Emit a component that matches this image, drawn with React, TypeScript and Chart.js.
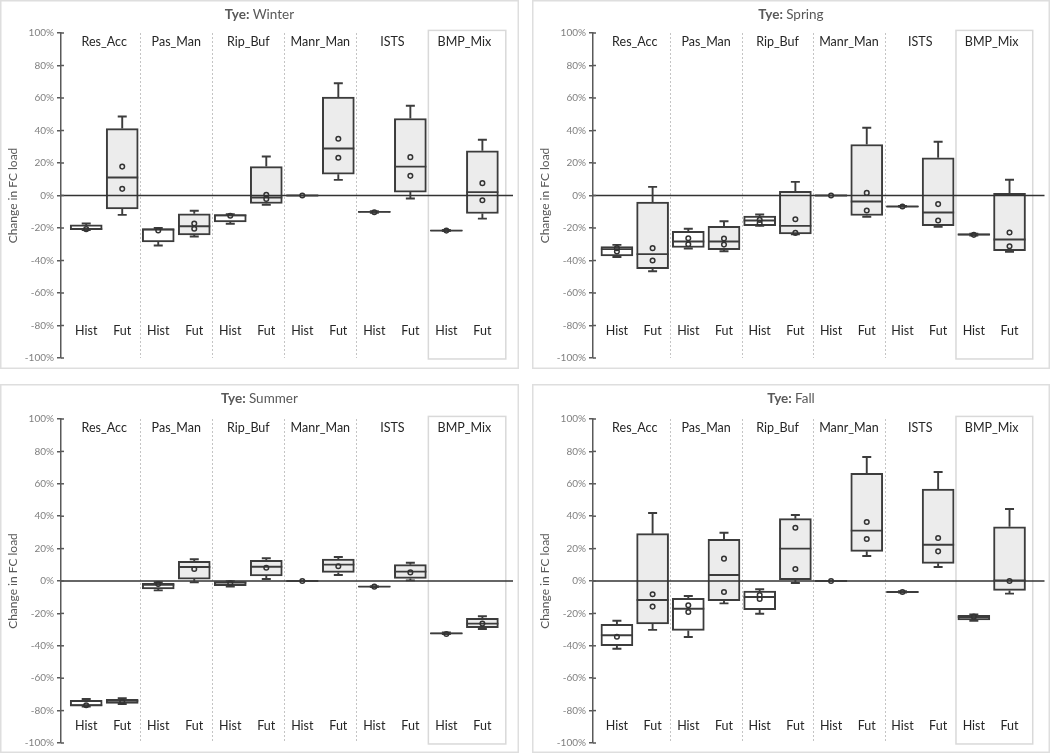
import React, { useEffect, useRef } from 'react';
import { Chart, registerables } from 'chart.js';

Chart.register(...registerables);

const FONT = 'Lato, "Noto Sans", "DejaVu Sans", sans-serif';

// ---------- categories & ticks ----------
const groups = ['Res_Acc', 'Pas_Man', 'Rip_Buf', 'Manr_Man', 'ISTS', 'BMP_Mix'];
const periods = ['Hist', 'Fut'];
const yTicks = [-100, -80, -60, -40, -20, 0, 20, 40, 60, 80, 100];
const yAxisTitle = 'Change in FC load';
const titlePrefix = 'Tye:';

// box order: Res_Acc Hist, Res_Acc Fut, Pas_Man Hist, Pas_Man Fut, Rip_Buf Hist, Rip_Buf Fut,
//            Manr_Man Hist, Manr_Man Fut, ISTS Hist, ISTS Fut, BMP_Mix Hist, BMP_Mix Fut

// ---------- Winter ----------
const winterMin = [-21.2, -11.9, -30.8, -25.2, -17.4, -5.7, 0, 9.6, -10.6, -1.8, -21.9, -14.2];
const winterQ1 = [-21.0, -8.2, -28.5, -24.2, -16.2, -4.9, 0, 13.1, -10.4, 2.1, -21.8, -11.1];
const winterMed = [-20.6, 11.1, -21.0, -18.9, -12.2, -1.2, 0, 28.9, -10.1, 17.8, -21.6, 2.1];
const winterQ3 = [-18.1, 41.2, -20.3, -11.3, -11.7, 17.8, 0, 60.5, -9.8, 47.4, -21.3, 27.5];
const winterMax = [-17.2, 48.6, -19.9, -9.4, -11.5, 24.0, 0, 69.1, -9.6, 55.2, -21.2, 34.3];
const winterPoints = [[-20.7], [17.8, 4.1], [-21.5], [-17.2, -20.5], [-12.5], [0.4, -2.1], [0], [34.9, 23.2], [-10.3], [23.6, 12.1], [-21.6], [7.6, -2.9]];

// ---------- Spring ----------
const springMin = [-37.8, -46.6, -32.6, -34.3, -18.7, -23.8, 0, -13.1, -7.0, -19.3, -24.6, -34.7];
const springQ1 = [-37.2, -45.0, -32.0, -33.3, -18.5, -23.6, 0, -12.3, -6.9, -18.5, -24.4, -33.9];
const springMed = [-33.0, -36.1, -28.3, -28.3, -15.4, -18.7, 0, -3.7, -6.8, -10.5, -24.0, -27.1];
const springQ3 = [-31.4, -4.1, -22.0, -18.9, -12.7, 2.5, 0, 31.4, -6.6, 23.2, -23.6, 1.4];
const springMax = [-30.4, 5.3, -20.5, -15.8, -11.7, 8.4, 0, 41.7, -6.5, 33.1, -23.5, 9.7];
const springPoints = [[-32.4, -34.5], [-32.4, -40.0], [-26.3, -30.0], [-26.5, -30.2], [-15.0, -17.0], [-14.6, -23.0], [0], [1.6, -9.2], [-6.8], [-5.3, -15.4], [-24.2], [-22.8, -31.2]];

// ---------- Summer ----------
const summerMin = [-77.5, -75.9, -5.8, -0.8, -3.5, 1.2, 0, 3.7, -3.7, 0.4, -32.8, -29.6];
const summerQ1 = [-77.2, -75.5, -4.9, 1.2, -2.9, 3.1, 0, 5.3, -3.6, 1.6, -32.6, -28.8];
const summerMed = [-76.6, -74.0, -2.3, 8.6, -1.0, 8.8, 0, 10.1, -3.5, 5.8, -32.3, -26.3];
const summerQ3 = [-73.7, -73.0, -1.4, 12.1, -0.4, 12.8, 0, 13.6, -3.3, 10.1, -32.0, -23.0];
const summerMax = [-72.8, -72.4, -0.8, 13.4, -0.2, 14.0, 0, 14.8, -3.2, 11.3, -31.8, -21.8];
const summerPoints = [[-76.7], [-74.5], [-1.9], [7.4], [-1.4], [8.2], [0], [9.1], [-3.5], [5.3], [-32.7], [-26.3]];

// ---------- Fall ----------
const fallMin = [-41.8, -30.2, -34.6, -13.8, -20.2, -1.2, 0, 15.4, -7.2, 8.6, -24.5, -7.8];
const fallQ1 = [-39.9, -26.5, -30.5, -12.1, -17.7, 0.8, 0, 18.3, -7.0, 10.9, -24.1, -5.8];
const fallMed = [-33.5, -11.7, -17.1, 3.7, -9.9, 20.0, 0, 31.1, -6.8, 22.4, -22.2, 0.4];
const fallQ3 = [-26.7, 29.2, -10.7, 25.7, -6.2, 38.5, 0, 66.5, -6.5, 56.8, -21.2, 33.5];
const fallMax = [-24.5, 42.0, -9.3, 29.8, -5.1, 40.7, 0, 76.5, -6.3, 67.3, -20.6, 44.4];
const fallPoints = [[-34.4], [-8.2, -15.8], [-15.0, -19.1], [13.8, -6.8], [-8.6, -11.1], [32.9, 7.4], [0], [36.4, 25.9], [-6.8], [26.5, 18.3], [-22.0], [0.0]];

type SeasonData = {
  name: string;
  min: number[]; q1: number[]; med: number[]; q3: number[]; max: number[]; pts: number[][];
};

const seasonData: SeasonData[] = [
  { name: 'Winter', min: winterMin, q1: winterQ1, med: winterMed, q3: winterQ3, max: winterMax, pts: winterPoints },
  { name: 'Spring', min: springMin, q1: springQ1, med: springMed, q3: springQ3, max: springMax, pts: springPoints },
  { name: 'Summer', min: summerMin, q1: summerQ1, med: summerMed, q3: summerQ3, max: summerMax, pts: summerPoints },
  { name: 'Fall', min: fallMin, q1: fallQ1, med: fallMed, q3: fallQ3, max: fallMax, pts: fallPoints },
];

// ---------- panel layout (positions / sizes only) ----------
const layouts = [
  { left: 0, top: 0, w: 519, h: 369, padTop: 33, padBottom: 11, padRight: 6, axisW: 61, xMin: -0.7, xMax: 11.85, periodLabelAt: -83.5 },
  { left: 532, top: 0, w: 518, h: 369, padTop: 33, padBottom: 11, padRight: 3, axisW: 61, xMin: -0.67, xMax: 11.98, periodLabelAt: -83.5 },
  { left: 0, top: 384, w: 519, h: 369, padTop: 35, padBottom: 10, padRight: 6, axisW: 61, xMin: -0.7, xMax: 11.85, periodLabelAt: -89.5 },
  { left: 532, top: 384, w: 518, h: 369, padTop: 35, padBottom: 10, padRight: 3, axisW: 61, xMin: -0.67, xMax: 11.98, periodLabelAt: -89.5 },
];

const DARK = '#3c3c3c';
const GRAY_TEXT = '#595959';

const decorPlugin = {
  id: 'boxDecor',
  beforeDraw(chart: any, _args: any, opts: any) {
    const { ctx, width, height, scales } = chart;
    const x = scales.x, y = scales.y;
    ctx.save();
    ctx.fillStyle = '#ffffff';
    ctx.fillRect(0, 0, width, height);
    // panel frame
    ctx.strokeStyle = '#dedede';
    ctx.lineWidth = 1.5;
    ctx.strokeRect(0.75, 0.75, width - 1.5, height - 1.5);

    // title
    ctx.fillStyle = GRAY_TEXT;
    ctx.textBaseline = 'middle';
    ctx.textAlign = 'left';
    ctx.font = `bold 13.5px ${FONT}`;
    const pre = titlePrefix + ' ';
    const w1 = ctx.measureText(pre).width;
    ctx.font = `13.5px ${FONT}`;
    const w2 = ctx.measureText(opts.name).width;
    const tx = width / 2 - (w1 + w2) / 2;
    ctx.font = `bold 13.5px ${FONT}`;
    ctx.fillText(pre, tx, 15);
    ctx.font = `13.5px ${FONT}`;
    ctx.fillText(opts.name, tx + w1, 15);

    // y axis title
    const midY = (y.getPixelForValue(100) + y.getPixelForValue(-100)) / 2;
    ctx.save();
    ctx.translate(13, midY);
    ctx.rotate(-Math.PI / 2);
    ctx.textAlign = 'center';
    ctx.font = `12px ${FONT}`;
    ctx.fillStyle = GRAY_TEXT;
    ctx.fillText(yAxisTitle, 0, 0);
    ctx.restore();

    // dashed separators between groups
    ctx.strokeStyle = '#c4c4c4';
    ctx.lineWidth = 1;
    ctx.setLineDash([2, 2]);
    for (let k = 0; k < groups.length - 2; k++) {
      const sx = Math.round(x.getPixelForValue(2 * k + 1.5)) + 0.5;
      ctx.beginPath();
      ctx.moveTo(sx, y.getPixelForValue(100));
      ctx.lineTo(sx, y.getPixelForValue(-100));
      ctx.stroke();
    }
    ctx.setLineDash([]);

    // BMP_Mix frame
    ctx.strokeStyle = '#d9d9d9';
    ctx.lineWidth = 1.5;
    const bx0 = x.getPixelForValue(9.5), bx1 = x.getPixelForValue(11.65);
    const by0 = y.getPixelForValue(101.6), by1 = y.getPixelForValue(-100.6);
    ctx.strokeRect(bx0, by0, bx1 - bx0, by1 - by0);
    ctx.restore();
  },
  afterDatasetDraw(chart: any, args: any, opts: any) {
    if (args.index !== 0) return;
    const { ctx, chartArea, scales } = chart;
    const x = scales.x, y = scales.y;
    const d: SeasonData = opts.data;
    const meta = chart.getDatasetMeta(0);
    ctx.save();
    // zero line
    ctx.strokeStyle = '#333333';
    ctx.lineWidth = 1.5;
    ctx.beginPath();
    ctx.moveTo(chartArea.left, y.getPixelForValue(0));
    ctx.lineTo(chartArea.right, y.getPixelForValue(0));
    ctx.stroke();

    ctx.strokeStyle = DARK;
    ctx.lineWidth = 1.9;
    const cap = 4.5;
    d.med.forEach((m, i) => {
      const cx = x.getPixelForValue(i);
      const half = (meta.data[i]?.width ?? 32) / 2;
      const yMax = y.getPixelForValue(d.max[i]);
      const yQ3 = y.getPixelForValue(d.q3[i]);
      const yQ1 = y.getPixelForValue(d.q1[i]);
      const yMin = y.getPixelForValue(d.min[i]);
      ctx.beginPath();
      // upper whisker
      ctx.moveTo(cx, yQ3); ctx.lineTo(cx, yMax);
      ctx.moveTo(cx - cap, yMax); ctx.lineTo(cx + cap, yMax);
      // lower whisker
      ctx.moveTo(cx, yQ1); ctx.lineTo(cx, yMin);
      ctx.moveTo(cx - cap, yMin); ctx.lineTo(cx + cap, yMin);
      // median
      const ym = y.getPixelForValue(m);
      ctx.moveTo(cx - half, ym); ctx.lineTo(cx + half, ym);
      ctx.stroke();
    });
    ctx.restore();
  },
  afterDraw(chart: any, _args: any, opts: any) {
    const { ctx, scales, chartArea } = chart;
    const x = scales.x, y = scales.y;
    ctx.save();
    // inner half of the axis ticks
    ctx.strokeStyle = GRAY_TEXT;
    ctx.lineWidth = 1.5;
    yTicks.forEach((v) => {
      const py = y.getPixelForValue(v);
      ctx.beginPath();
      ctx.moveTo(chartArea.left, py);
      ctx.lineTo(chartArea.left + 3, py);
      ctx.stroke();
    });
    // labels
    ctx.fillStyle = '#262626';
    ctx.textAlign = 'center';
    ctx.textBaseline = 'middle';
    ctx.font = `12.5px ${FONT}`;
    groups.forEach((g, k) => {
      ctx.fillText(g, x.getPixelForValue(2 * k + 0.5), y.getPixelForValue(94.5));
    });
    for (let i = 0; i < groups.length * 2; i++) {
      ctx.fillText(periods[i % 2], x.getPixelForValue(i), y.getPixelForValue(opts.periodLabelAt));
    }
    ctx.restore();
  },
};

function Panel({ d, l }: { d: SeasonData; l: (typeof layouts)[number] }) {
  const ref = useRef<HTMLCanvasElement>(null);
  useEffect(() => {
    if (!ref.current) return;
    const barData = d.q1.map((v, i) => ({ x: i, y: [v, d.q3[i]] }));
    const ptData: { x: number; y: number }[] = [];
    d.pts.forEach((arr, i) => arr.forEach((v) => ptData.push({ x: i, y: v })));
    const chart = new Chart(ref.current, {
      type: 'bar',
      data: {
        datasets: [
          {
            type: 'bar',
            data: barData as any,
            backgroundColor: d.q1.map((_, i) => (i % 2 === 0 ? '#ffffff' : '#ececec')),
            borderColor: DARK,
            borderWidth: 2,
            borderSkipped: false,
            barThickness: 32,
            order: 2,
          } as any,
          {
            type: 'scatter',
            data: ptData as any,
            pointRadius: 2.3,
            pointBorderWidth: 1.5,
            pointBorderColor: '#333333',
            pointBackgroundColor: 'rgba(0,0,0,0)',
            order: 1,
          } as any,
        ],
      },
      options: {
        animation: false,
        responsive: false,
        events: [],
        layout: { padding: { top: l.padTop, bottom: l.padBottom, right: l.padRight, left: 0 } },
        plugins: {
          legend: { display: false },
          tooltip: { enabled: false },
          boxDecor: { name: d.name, data: d, periodLabelAt: l.periodLabelAt },
        } as any,
        scales: {
          x: {
            type: 'linear',
            min: l.xMin,
            max: l.xMax,
            offset: false,
            display: false,
          },
          y: {
            min: -100,
            max: 100,
            afterFit: (s: any) => { s.width = l.axisW; },
            ticks: {
              stepSize: 20,
              callback: (v: any) => `${v}%`,
              color: '#808080',
              font: { family: FONT, size: 10 },
              padding: 3,
            },
            grid: {
              drawOnChartArea: false,
              drawTicks: true,
              tickLength: 4,
              color: GRAY_TEXT,
              lineWidth: 1.5,
            },
            border: { display: true, color: GRAY_TEXT, width: 1.5 },
          },
        } as any,
      },
      plugins: [decorPlugin as any],
    });
    return () => chart.destroy();
  }, []);
  return (
    <canvas
      ref={ref}
      width={l.w}
      height={l.h}
      style={{ position: 'absolute', left: l.left, top: l.top, width: l.w, height: l.h }}
    />
  );
}

export default function App() {
  return (
    <div style={{ position: 'fixed', left: 0, top: 0, width: 1050, height: 755, background: '#ffffff', overflow: 'hidden' }}>
      {seasonData.map((d, i) => (
        <Panel key={d.name} d={d} l={layouts[i]} />
      ))}
    </div>
  );
}
